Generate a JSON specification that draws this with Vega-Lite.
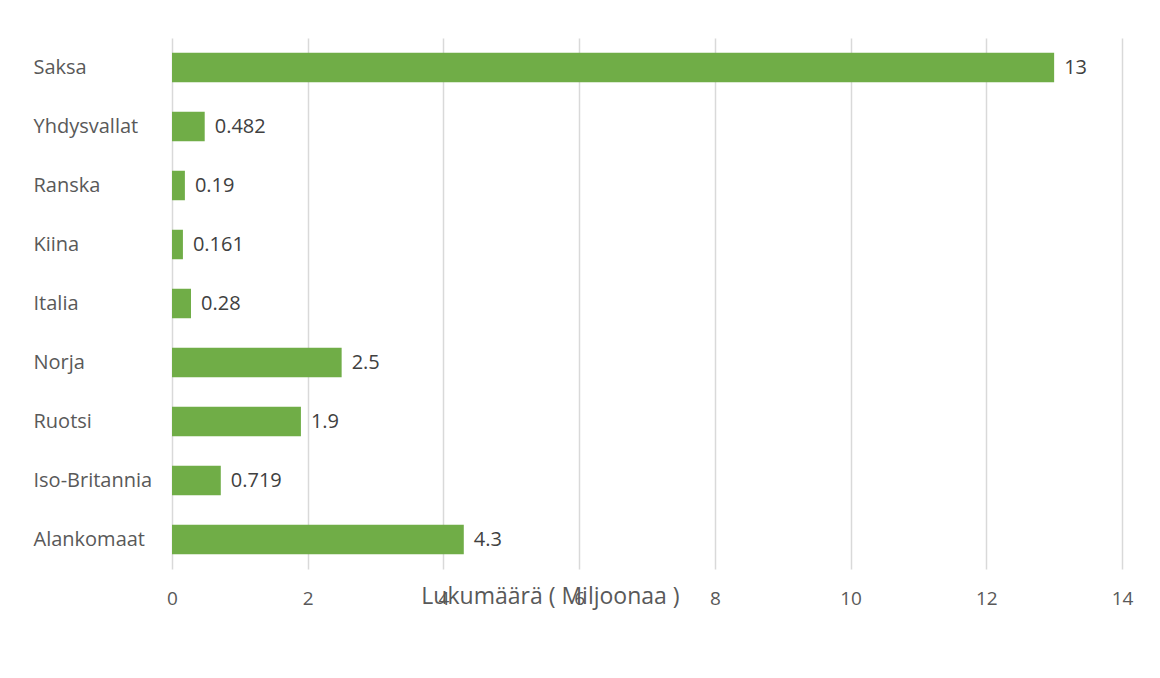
{
  "$schema": "https://vega.github.io/schema/vega-lite/v6.json",
  "autosize": {"type": "none"},
  "width": 950,
  "height": 531,
  "padding": {"left": 172, "top": 38, "right": 38, "bottom": 109},
  "background": "white",
  "config": {"view": {"stroke": null}, "font": "Open Sans"},
  "data": {"values": [
    {"maa": "Saksa", "arvo": 13, "label": "13"},
    {"maa": "Yhdysvallat", "arvo": 0.482, "label": "0.482"},
    {"maa": "Ranska", "arvo": 0.19, "label": "0.19"},
    {"maa": "Kiina", "arvo": 0.161, "label": "0.161"},
    {"maa": "Italia", "arvo": 0.28, "label": "0.28"},
    {"maa": "Norja", "arvo": 2.5, "label": "2.5"},
    {"maa": "Ruotsi", "arvo": 1.9, "label": "1.9"},
    {"maa": "Iso-Britannia", "arvo": 0.719, "label": "0.719"},
    {"maa": "Alankomaat", "arvo": 4.3, "label": "4.3"}
  ]},
  "encoding": {
    "y": {
      "field": "maa", "type": "nominal", "sort": null,
      "scale": {"paddingInner": 0.5, "paddingOuter": 0.25},
      "axis": {
        "title": null, "ticks": false, "domain": false,
        "labelAlign": "left", "labelPadding": 139,
        "labelFontSize": 20, "labelColor": "#595959", "labelFont": "Open Sans"
      }
    },
    "x": {
      "field": "arvo", "type": "quantitative",
      "scale": {"domain": [0, 14], "nice": false},
      "axis": {
        "values": [0, 2, 4, 6, 8, 10, 12, 14],
        "title": "Lukumäärä ( Miljoonaa )",
        "titleFontSize": 23, "titleColor": "#595959", "titleFontWeight": "normal", "titleFont": "Open Sans",
        "titleX": 378, "titleY": 34, "titleAlign": "center", "titleBaseline": "alphabetic",
        "domain": false, "ticks": false, "labelFlush": false,
        "grid": true, "gridColor": "#d9d9d9", "gridWidth": 1.5,
        "labelFontSize": 19, "labelColor": "#595959", "labelPadding": 20, "labelFont": "Open Sans"
      }
    }
  },
  "layer": [
    {"mark": {"type": "bar", "color": "#70AD47"}},
    {
      "mark": {"type": "text", "align": "left", "baseline": "middle", "dx": 10, "fontSize": 20, "color": "#404040", "font": "Open Sans"},
      "encoding": {"text": {"field": "label"}}
    }
  ]
}
